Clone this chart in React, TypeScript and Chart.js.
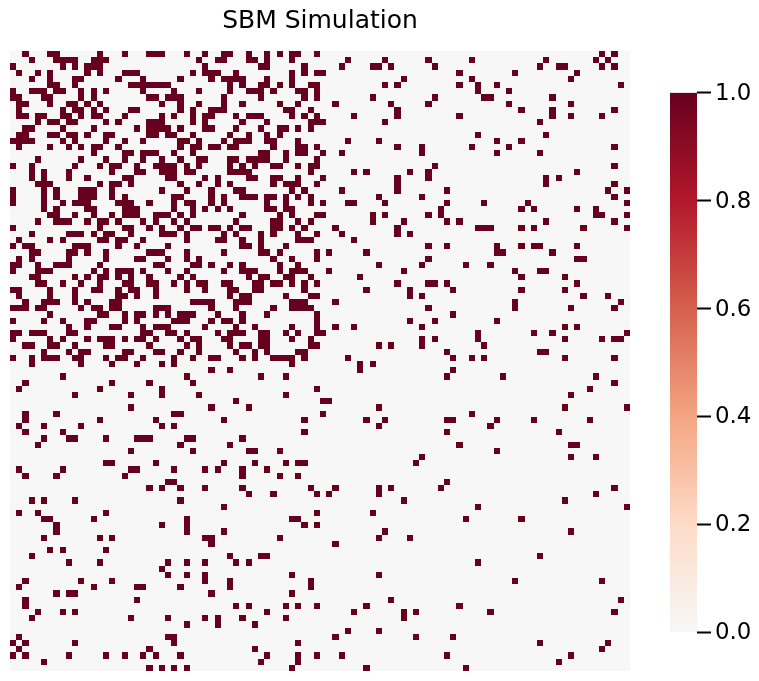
import { useEffect, useRef } from "react";
import { Chart, registerables, ScatterController } from "chart.js";

Chart.register(...registerables);

const NODE_COUNT = 100;
const CHART_TITLE = "SBM Simulation";
const COLORBAR_TICKS = [0, 0.2, 0.4, 0.6, 0.8, 1];
const COLOR_POSITIONS = [0, 0.2, 0.4, 0.6, 0.8, 1];
const COLOR_VALUES = ["#f7f7f7", "#fddbc7", "#f4a582", "#d6604d", "#b2182b", "#67001f"];

// Adjacency matrix, upper triangle: for each row, the columns holding a 1.
const rowLinks: number[][] = [
  [2,6,7,14,18,22,23,24,28,31,34,35,38,41,43,45,46,49,95,97],
  [3,7,8,9,10,13,14,15,30,33,34,38,39,41,45,54,60,67,74,86,94,96],
  [8,10,12,13,14,31,40,41,47,53,58,59,61,68,85,88,89,95,97],
  [4,6,12,14,18,19,20,29,31,32,33,36,45,47,49,50,72,81,91],
  [6,10,11,17,21,27,32,34,35,36,37,41,45,63,74,90],
  [6,7,10,19,20,21,22,23,24,25,35,37,40,41,43,45,48,49,60,62,72,75,78,98],
  [7,8,11,13,15,21,26,30,35,38,39,40,42,46,47,49,75,80],
  [11,13,22,23,25,26,27,34,40,47,49,58,68,76,77,87],
  [9,10,12,14,24,27,30,34,37,43,46,52,61,67,80,90],
  [10,11,13,15,19,20,27,29,32,33,34,44,45,48,62,82,87,97],
  [11,13,14,18,24,26,29,31,32,36,38,39,40,45,47,49,55,62,72,87,90,95],
  [15,17,22,23,24,29,31,37,41,48,49,50,60,85],
  [13,20,22,23,24,25,27,31,32,36,40,43,44,46,48],
  [15,16,22,23,25,26,29,35,38,41,43,75,86],
  [15,18,21,27,28,30,34,36,37,38,41,42,46,54,59,78,82],
  [17,27,29,30,32,33,35,36,42,46,47,49,62,66,74,80,97],
  [18,19,21,22,23,26,29,40,41,44,46,47,50,53,66,78,85],
  [18,21,24,27,30,31,35,36,38,39,40,41,44,49],
  [20,23,24,25,26,28,30,35,37,39,42,43,46,48,49,68,97],
  [20,21,24,25,26,28,29,35,36,37,38,48,55,57,64,67,91],
  [25,26,31,33,38,39,42,43,46,50,62,67,86,88],
  [27,30,33,35,42,44,45,46,49,62,86,97],
  [24,28,32,36,37,45,47,53,62,70,96,99],
  [26,27,32,34,37,38,39,41,42,44,46,48,59,66,97],
  [26,28,29,32,34,41,44,48,50,54,55,60,70,76,83,99],
  [26,29,31,33,35,41,42,44,45,69,82,84,91,94],
  [27,29,37,43,45,49,50,58,60,67,69,94,95,99],
  [28,36,42,43,46,48,58,63,70,72,86,97],
  [29,30,32,33,35,37,38,42,43,45,47,52,62,75,76,77,82,84,92,99],
  [34,36,40,42,46,49,53,62,64],
  [33,34,37,40,46,47,48,55],
  [37,38,40,44,67,70,78,82,84,85,91],
  [34,40,41,43,49,51,57,78,79,87],
  [42,45,49,67,91,92],
  [35,37,43,46,59,66,73,77],
  [37,38,39,43,45,46,47,51,63,81,85,86],
  [38,40,41,44,45,48,56,82,89],
  [39,40,42,43,45,47,49,62,67,68,70,91],
  [39,40,47,57,64,71,82,89],
  [44,48,49,64,66,92,96],
  [45,46,47,52,81,98],
  [42,45,46,47,48,67,81,90,97],
  [49,71],
  [49,64,68,78],
  [45,49,52,55,66,89,91],
  [46,49,50,75,84,87,99],
  [48,66,68,75,89,95,97,98],
  [48,49,59,61,66,76],
  [70,85,86],
  [54,71,74,76,89,97],
  [56,58],
  [56,71],
  [70,79,94],
  [97],
  [93],
  [90],
  [],
  [59,89,99],
  [74],
  [60,70,71,78,84,93],
  [77],
  [70,88],
  [],
  [72,90,91],
  [78],
  [66,90,94],
  [],
  [],
  [],
  [70],
  [97],
  [94],
  [89],
  [75,99],
  [],
  [82],
  [],
  [90],
  [],
  [],
  [],
  [85],
  [],
  [],
  [],
  [95],
  [],
  [],
  [98],
  [],
  [97],
  [],
  [],
  [],
  [],
  [96],
  [],
  [],
  [],
  [],
];

const FONT = "'DejaVu Sans'";

// Scatter controller whose points are whole matrix cells, snapped to device pixels.
class HeatCellController extends ScatterController {
  static id = "heatCell";
  static defaults = ScatterController.defaults;
  static overrides = ScatterController.overrides;
  draw() {
    const ctx = this.chart.ctx;
    const meta = this.getMeta();
    const xs = meta.xScale!;
    const ys = meta.yScale!;
    ctx.save();
    ctx.fillStyle = (this.getDataset() as any).backgroundColor;
    const data = this.getDataset().data as { x: number; y: number }[];
    for (const d of data) {
      const l = Math.round(xs.getPixelForValue(d.x));
      const r = Math.round(xs.getPixelForValue(d.x + 1));
      const t = Math.round(ys.getPixelForValue(d.y));
      const b = Math.round(ys.getPixelForValue(d.y + 1));
      ctx.fillRect(l, t, r - l, b - t);
    }
    ctx.restore();
  }
}
Chart.register(HeatCellController);

const zeroBackground = {
  id: "zeroBackground",
  beforeDatasetsDraw(chart: Chart) {
    const { ctx, chartArea: a } = chart;
    ctx.save();
    ctx.fillStyle = COLOR_VALUES[0];
    ctx.fillRect(a.left, a.top, a.right - a.left, a.bottom - a.top);
    ctx.restore();
  },
};

function cellPoints() {
  const pts: { x: number; y: number }[] = [];
  rowLinks.forEach((cols, row) => {
    for (const col of cols) {
      pts.push({ x: col, y: row });
      pts.push({ x: row, y: col });
    }
  });
  return pts;
}

export default function App() {
  const heatRef = useRef<HTMLCanvasElement>(null);
  const barRef = useRef<HTMLCanvasElement>(null);

  useEffect(() => {
    document.body.style.background = "#fff";
    const heat = new Chart(heatRef.current!, {
      type: "heatCell" as any,
      data: {
        datasets: [
          {
            data: cellPoints(),
            backgroundColor: COLOR_VALUES[COLOR_VALUES.length - 1],
          } as any,
        ],
      },
      plugins: [zeroBackground],
      options: {
        animation: false,
        responsive: false,
        devicePixelRatio: 1,
        layout: { padding: { left: 10, right: 129, top: 0, bottom: 10 } },
        scales: {
          x: { type: "linear", display: false, min: 0, max: NODE_COUNT },
          y: { type: "linear", display: false, min: 0, max: NODE_COUNT, reverse: true },
        },
        plugins: {
          legend: { display: false },
          tooltip: { enabled: false },
          title: {
            display: true,
            text: CHART_TITLE,
            fullSize: false,
            color: "#000",
            font: { family: FONT, size: 25, weight: "normal", lineHeight: 1.2 },
            padding: { top: 6, bottom: 15 },
          },
        },
      },
    });

    const bar = new Chart(barRef.current!, {
      type: "bar",
      data: {
        labels: ["colorbar"],
        datasets: [
          {
            data: [[0, 1]] as any,
            barPercentage: 1,
            categoryPercentage: 1,
            backgroundColor: (c: any) => {
              const a = c.chart.chartArea;
              if (!a) return COLOR_VALUES[0];
              const y = c.chart.scales.y;
              const g = c.chart.ctx.createLinearGradient(0, y.getPixelForValue(0), 0, y.getPixelForValue(1));
              COLOR_POSITIONS.forEach((p, i) => g.addColorStop(p, COLOR_VALUES[i]));
              return g;
            },
          },
        ],
      },
      options: {
        animation: false,
        responsive: false,
        devicePixelRatio: 1,
        layout: { padding: { left: 30, right: 0, top: 0, bottom: 0 } },
        scales: {
          x: { display: false },
          y: {
            position: "right",
            min: 0,
            max: 1,
            border: { display: false },
            grid: {
              drawOnChartArea: false,
              drawTicks: true,
              tickLength: 14,
              tickWidth: 2,
              tickColor: "#000",
            },
            afterBuildTicks: (s: any) => {
              s.ticks = COLORBAR_TICKS.map((value) => ({ value }));
            },
            afterFit: (s: any) => {
              s.width = 62;
            },
            ticks: {
              color: "#000",
              padding: 4,
              labelOffset: 1,
              font: { family: FONT, size: 22.9 },
              callback: (v: any) => Number(v).toFixed(1),
            },
          },
        },
        plugins: { legend: { display: false }, tooltip: { enabled: false }, title: { display: false } },
      },
    });

    return () => {
      heat.destroy();
      bar.destroy();
    };
  }, []);

  return (
    <div style={{ position: "absolute", left: 0, top: 0, width: 759, height: 681 }}>
      <canvas ref={heatRef} width={759} height={681} style={{ position: "absolute", left: 0, top: 0 }} />
      <canvas ref={barRef} width={119} height={575} style={{ position: "absolute", left: 640, top: 75 }} />
    </div>
  );
}
